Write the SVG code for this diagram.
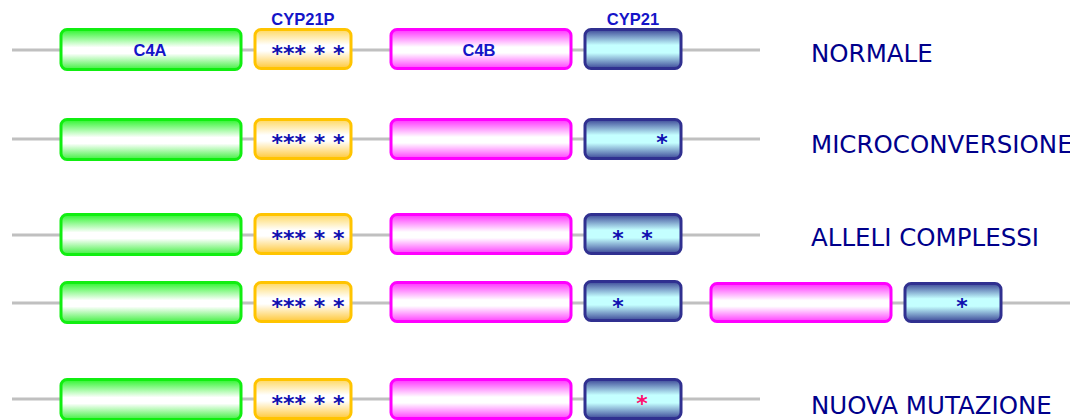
<svg xmlns="http://www.w3.org/2000/svg" width="1070" height="420" viewBox="0 0 1070 420">
<defs>
<linearGradient id="gG" x1="0" y1="0" x2="0" y2="1">
<stop offset="0" stop-color="#2cf52c"/><stop offset="0.45" stop-color="#ffffff"/><stop offset="0.6" stop-color="#ffffff"/><stop offset="1" stop-color="#40f040"/>
</linearGradient>
<linearGradient id="gO" x1="0" y1="0" x2="0" y2="1">
<stop offset="0" stop-color="#ffd860"/><stop offset="0.4" stop-color="#ffffff"/><stop offset="0.55" stop-color="#ffffff"/><stop offset="1" stop-color="#ffc838"/>
</linearGradient>
<linearGradient id="gM" x1="0" y1="0" x2="0" y2="1">
<stop offset="0" stop-color="#ff30ff"/><stop offset="0.45" stop-color="#ffffff"/><stop offset="0.6" stop-color="#ffffff"/><stop offset="1" stop-color="#ff40ff"/>
</linearGradient>
<linearGradient id="gC" x1="0" y1="0" x2="0" y2="1">
<stop offset="0" stop-color="#3c4898"/><stop offset="0.4" stop-color="#c4ffff"/><stop offset="0.6" stop-color="#c4ffff"/><stop offset="1" stop-color="#3c4898"/>
</linearGradient>
</defs>
<style>
.ln{stroke:#c0c0c0;stroke-width:3;fill:none}
.g{fill:url(#gG);stroke:#11ee11;stroke-width:3}
.o{fill:url(#gO);stroke:#ffc400;stroke-width:3}
.m{fill:url(#gM);stroke:#ff00ff;stroke-width:3}
.c{fill:url(#gC);stroke:#303090;stroke-width:3}
.gl{font-family:"Liberation Sans",Arial,sans-serif;font-weight:bold;font-size:16.5px;fill:#1414c8;text-anchor:middle}
.st{font-family:"DejaVu Sans",sans-serif;font-weight:bold;font-size:22px;fill:#1010b0;text-anchor:middle}
.red{fill:#ff1070}
.lab{font-family:"DejaVu Sans",Verdana,sans-serif;font-size:24.5px;fill:#00008b}
</style>
<g id="connectors">
<line class="ln" x1="12" y1="50" x2="760" y2="50"/>
<line class="ln" x1="12" y1="139" x2="760" y2="139"/>
<line class="ln" x1="12" y1="235" x2="760" y2="235"/>
<line class="ln" x1="12" y1="303" x2="1070" y2="303"/>
<line class="ln" x1="12" y1="399" x2="760" y2="399"/>
</g>
<g id="row1">
<g id="r1-c4a"><rect class="g" x="61" y="29.5" width="180" height="40" rx="6"/><text class="gl" x="150" y="56">C4A</text></g>
<g id="r1-cyp21p"><rect class="o" x="255" y="29.5" width="96" height="39" rx="6"/><text class="gl" x="303" y="25">CYP21P</text><text class="st" x="308" y="61">*** * *</text></g>
<g id="r1-c4b"><rect class="m" x="391" y="29.5" width="180" height="39" rx="6"/><text class="gl" x="479" y="56">C4B</text></g>
<g id="r1-cyp21"><rect class="c" x="585" y="29.5" width="96" height="39" rx="6"/><text class="gl" x="633" y="25">CYP21</text></g>
<text class="lab" x="811" y="62">NORMALE</text>
</g>
<g id="row2">
<g id="r2-c4a"><rect class="g" x="61" y="119.5" width="180" height="40" rx="6"/></g>
<g id="r2-cyp21p"><rect class="o" x="255" y="119.5" width="96" height="39" rx="6"/><text class="st" x="308" y="150">*** * *</text></g>
<g id="r2-c4b"><rect class="m" x="391" y="119.5" width="180" height="39" rx="6"/></g>
<g id="r2-cyp21"><rect class="c" x="585" y="119.5" width="96" height="39" rx="6"/><text class="st" x="662" y="150">*</text></g>
<text class="lab" x="811" y="153">MICROCONVERSIONE</text>
</g>
<g id="row3">
<g id="r3-c4a"><rect class="g" x="61" y="214.5" width="180" height="40" rx="6"/></g>
<g id="r3-cyp21p"><rect class="o" x="255" y="214.5" width="96" height="39" rx="6"/><text class="st" x="308" y="246">*** * *</text></g>
<g id="r3-c4b"><rect class="m" x="391" y="214.5" width="180" height="39" rx="6"/></g>
<g id="r3-cyp21"><rect class="c" x="585" y="214.5" width="96" height="39" rx="6"/><text class="st" x="618" y="246">*</text><text class="st" x="647" y="246">*</text></g>
<text class="lab" x="811" y="246">ALLELI COMPLESSI</text>
</g>
<g id="row4">
<g id="r4-c4a"><rect class="g" x="61" y="282.5" width="180" height="40" rx="6"/></g>
<g id="r4-cyp21p"><rect class="o" x="255" y="282.5" width="96" height="39" rx="6"/><text class="st" x="308" y="314">*** * *</text></g>
<g id="r4-c4b"><rect class="m" x="391" y="282.5" width="180" height="39" rx="6"/></g>
<g id="r4-cyp21"><rect class="c" x="585" y="281.5" width="96" height="39" rx="6"/><text class="st" x="618" y="314">*</text></g>
<g id="r4-c4b2"><rect class="m" x="711" y="283.5" width="180" height="38" rx="6"/></g>
<g id="r4-cyp21b"><rect class="c" x="905" y="283.5" width="96" height="38" rx="6"/><text class="st" x="962" y="314">*</text></g>
</g>
<g id="row5">
<g id="r5-c4a"><rect class="g" x="61" y="379.5" width="180" height="40" rx="6"/></g>
<g id="r5-cyp21p"><rect class="o" x="255" y="379.5" width="96" height="39" rx="6"/><text class="st" x="308" y="411">*** * *</text></g>
<g id="r5-c4b"><rect class="m" x="391" y="379.5" width="180" height="39" rx="6"/></g>
<g id="r5-cyp21"><rect class="c" x="585" y="379.5" width="96" height="39" rx="6"/><text class="st red" x="642" y="411">*</text></g>
<text class="lab" x="811" y="414">NUOVA MUTAZIONE</text>
</g>
</svg>
